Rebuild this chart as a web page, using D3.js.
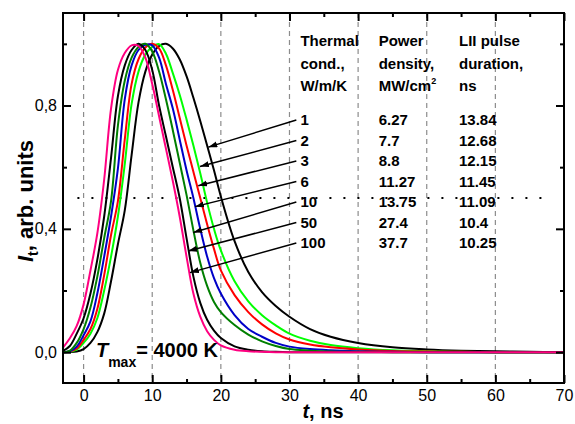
<!DOCTYPE html>
<html>
<head>
<meta charset="utf-8">
<script src="https://cdn.jsdelivr.net/npm/d3@7"></script>
<style>
body { margin: 0; background: #fff; }
text { font-family: "Liberation Sans", Arial, sans-serif; fill: #000; }
</style>
</head>
<body>
<svg id="chart"></svg>
<script>
// time grid, ns
var tGrid = [-3, -2, -1, 0, 1, 2, 3, 4, 5, 6, 7, 8, 9, 10, 11, 12, 13, 14, 15, 16, 17, 18, 19, 20,
             22, 24, 26, 28, 30, 33, 36, 40, 45, 50, 55, 60, 65, 70];

// normalized LII signal for each thermal conductivity (W/m/K)
var iK1   = [0, 0, .002, .01, .03, .065, .125, .23, .35, .46, .64, .81, .91, .965, .993, 1.0, .985, .95, .895, .825, .75, .67, .59, .505,
             .36, .26, .195, .15, .115, .075, .05, .03, .016, .009, .005, .003, .001, 0];
var iK2   = [0, .001, .008, .03, .06, .11, .20, .31, .44, .61, .805, .91, .965, .99, .999, .968, .905, .835, .755, .67, .58, .485, .40, .33,
             .23, .165, .12, .087, .06, .037, .023, .013, .006, .003, .001, 0, 0, 0];
var iK3   = [0, .002, .012, .04, .075, .14, .25, .38, .49, .69, .87, .95, .988, 1.0, .985, .93, .85, .76, .67, .585, .50, .415, .335, .265,
             .185, .13, .09, .061, .041, .025, .016, .009, .004, .002, .001, 0, 0, 0];
var iK6   = [0, .003, .018, .055, .10, .19, .31, .44, .595, .82, .93, .98, .997, .995, .955, .87, .79, .69, .59, .50, .40, .31, .24, .19,
             .12, .075, .05, .03, .018, .01, .006, .003, .001, 0, 0, 0, 0, 0];
var iK10  = [0, .005, .03, .075, .145, .245, .37, .49, .735, .88, .955, .99, 1.0, .975, .91, .82, .72, .615, .51, .395, .29, .215, .163, .13,
             .088, .057, .035, .02, .01, .005, .002, .001, 0, 0, 0, 0, 0, 0];
var iK50  = [.004, .02, .06, .11, .19, .30, .44, .63, .83, .93, .98, 1.0, .98, .915, .80, .70, .60, .50, .37, .245, .16, .105, .07, .046,
             .019, .008, .003, .001, 0, 0, 0, 0, 0, 0, 0, 0, 0, 0];
var iK100 = [.015, .045, .085, .155, .265, .385, .56, .79, .915, .97, .995, .993, .955, .87, .765, .66, .555, .44, .31, .19, .115, .068, .04, .022,
             .008, .003, .001, 0, 0, 0, 0, 0, 0, 0, 0, 0, 0, 0];

var seriesValues = [iK1, iK2, iK3, iK6, iK10, iK50, iK100];
var seriesColors = ["#000000", "#00ff00", "#ff0000", "#0000c8", "#007f00", "#000000", "#ff0080"];

// table
var thermalCond   = ["1", "2", "3", "6", "10", "50", "100"];
var powerDensity  = ["6.27", "7.7", "8.8", "11.27", "13.75", "27.4", "37.7"];
var pulseDuration = ["13.84", "12.68", "12.15", "11.45", "11.09", "10.4", "10.25"];

// where each arrow touches its curve (t, I)
var arrowTipT = [18.17, 16.96, 16.71, 16.23, 15.98, 15.25, 15.5];
var arrowTipV = [0.665, 0.602, 0.54, 0.472, 0.388, 0.328, 0.258];

var xMajor = [0, 10, 20, 30, 40, 50, 60, 70];
var xMinor = [5, 15, 25, 35, 45, 55, 65];
var yMajor = [0, 0.4, 0.8];
var yMinor = [0.2, 0.6, 1.0];
var gridT  = [0, 10, 20, 30, 40, 50, 60];
var halfLevel = 0.5, halfFrom = -0.9, halfTo = 67.5;

var margin = {top: 13, right: 11, bottom: 41, left: 63},
    width = 575 - margin.left - margin.right,
    height = 424 - margin.top - margin.bottom;

var root = d3.select("#chart")
    .attr("width", 575)
    .attr("height", 424);

var svg = root.append("g")
    .attr("transform", "translate(" + margin.left + "," + margin.top + ")");

var x = d3.scaleLinear().domain([-3, 70]).range([0, width]);
var y = d3.scaleLinear().domain([-0.1, 1.1]).range([height, 0]);

// dashed vertical grid
svg.append("g").selectAll("line")
    .data(gridT)
    .enter().append("line")
      .attr("x1", function(d) { return x(d); })
      .attr("x2", function(d) { return x(d); })
      .attr("y1", 0)
      .attr("y2", height)
      .attr("stroke", "#8c8c8c")
      .attr("stroke-width", 1.2)
      .attr("stroke-dasharray", "5,4");

// dotted half-maximum line
svg.append("line")
    .attr("x1", x(halfFrom)).attr("x2", x(halfTo))
    .attr("y1", y(halfLevel)).attr("y2", y(halfLevel))
    .attr("stroke", "#000")
    .attr("stroke-width", 2)
    .attr("stroke-dasharray", "2,12");

// curves
var line = d3.line()
    .x(function(d) { return x(d[0]); })
    .y(function(d) { return y(d[1]); })
    .curve(d3.curveCatmullRom.alpha(0.5));

seriesValues.forEach(function(vals, i) {
  svg.append("path")
    .datum(tGrid.map(function(t, j) { return [t, vals[j]]; }))
    .attr("fill", "none")
    .attr("stroke", seriesColors[i])
    .attr("stroke-width", 2)
    .attr("d", line);
});

// axes, ticks pointing inward
function styleAxis(g) {
  g.select(".domain").remove();
  g.selectAll(".tick line").attr("stroke-width", 2);
  g.selectAll("text").attr("font-size", 16).attr("font-family", "Liberation Sans, Arial, sans-serif");
}
var comma = function(d) { return d3.format(".1f")(d).replace(".", ","); };

svg.append("g").attr("transform", "translate(0," + height + ")")
    .call(d3.axisBottom(x).tickValues(xMajor).tickSizeInner(-8).tickSizeOuter(0).tickPadding(7))
    .call(styleAxis);
svg.append("g").attr("transform", "translate(0," + height + ")")
    .call(d3.axisBottom(x).tickValues(xMinor).tickSizeInner(-4).tickSizeOuter(0).tickFormat(""))
    .call(styleAxis);
svg.append("g")
    .call(d3.axisTop(x).tickValues(xMajor).tickSizeInner(-8).tickSizeOuter(0).tickFormat(""))
    .call(styleAxis);
svg.append("g")
    .call(d3.axisTop(x).tickValues(xMinor).tickSizeInner(-4).tickSizeOuter(0).tickFormat(""))
    .call(styleAxis);
svg.append("g")
    .call(d3.axisLeft(y).tickValues(yMajor).tickSizeInner(-8).tickSizeOuter(0).tickPadding(6).tickFormat(comma))
    .call(styleAxis);
svg.append("g")
    .call(d3.axisLeft(y).tickValues(yMinor).tickSizeInner(-4).tickSizeOuter(0).tickFormat(""))
    .call(styleAxis);
svg.append("g").attr("transform", "translate(" + width + ",0)")
    .call(d3.axisRight(y).tickValues(yMajor).tickSizeInner(-8).tickSizeOuter(0).tickFormat(""))
    .call(styleAxis);
svg.append("g").attr("transform", "translate(" + width + ",0)")
    .call(d3.axisRight(y).tickValues(yMinor).tickSizeInner(-4).tickSizeOuter(0).tickFormat(""))
    .call(styleAxis);

svg.append("rect")
    .attr("width", width).attr("height", height)
    .attr("fill", "none").attr("stroke", "#000").attr("stroke-width", 2);

// table of parameters
var colX = [x(31.6), x(43.0), x(54.7)];
var headY = [33, 55.5, 78];
var rowY0 = 112, rowStep = 20.5;

var headers = [["Thermal", "cond.,", "W/m/K"], ["Power", "density,", "MW/cm"], ["LII pulse", "duration,", "ns"]];
var table = svg.append("g").attr("font-size", 15).attr("font-weight", "bold");
headers.forEach(function(col, c) {
  col.forEach(function(txt, r) {
    var t = table.append("text").attr("x", colX[c]).attr("y", headY[r]).text(txt);
    if (c === 1 && r === 2) {
      t.append("tspan").attr("font-size", 9).attr("dy", -7).text("2");
    }
  });
});
[thermalCond, powerDensity, pulseDuration].forEach(function(col, c) {
  table.selectAll(null)
    .data(col)
    .enter().append("text")
      .attr("x", colX[c])
      .attr("y", function(d, i) { return rowY0 + i * rowStep; })
      .text(function(d) { return d; });
});

// arrows from labels to curves
root.append("defs").append("marker")
    .attr("id", "head")
    .attr("markerUnits", "userSpaceOnUse")
    .attr("markerWidth", 10).attr("markerHeight", 8)
    .attr("refX", 9).attr("refY", 3)
    .attr("orient", "auto")
  .append("path")
    .attr("d", "M0,0 L9,3 L0,6 Z")
    .attr("fill", "#000");

svg.append("g").selectAll("line")
    .data(thermalCond)
    .enter().append("line")
      .attr("x1", x(31.0))
      .attr("y1", function(d, i) { return rowY0 + i * rowStep - 5; })
      .attr("x2", function(d, i) { return x(arrowTipT[i]); })
      .attr("y2", function(d, i) { return y(arrowTipV[i]); })
      .attr("stroke", "#000")
      .attr("stroke-width", 1.5)
      .attr("marker-end", "url(#head)");

// T_max label
var tmax = svg.append("text")
    .attr("x", x(1.8)).attr("y", y(-0.015))
    .attr("font-size", 20).attr("font-weight", "bold");
tmax.append("tspan").attr("font-style", "italic").text("T");
tmax.append("tspan").attr("font-size", 14).attr("dy", 10).text("max");
tmax.append("tspan").attr("dy", -10).text("= 4000 K");

// axis titles
var xt = root.append("text")
    .attr("x", 323).attr("y", 418)
    .attr("text-anchor", "middle")
    .attr("font-size", 20).attr("font-weight", "bold");
xt.append("tspan").attr("font-style", "italic").text("t");
xt.append("tspan").text(", ns");

var yt = root.append("text")
    .attr("transform", "translate(33,262) rotate(-90)")
    .attr("font-size", 22).attr("font-weight", "bold");
yt.append("tspan").attr("font-style", "italic").text("I");
yt.append("tspan").attr("font-size", 14).attr("dy", 5).text("t");
yt.append("tspan").attr("dy", -5).text(", arb. units");
</script>
</body>
</html>
